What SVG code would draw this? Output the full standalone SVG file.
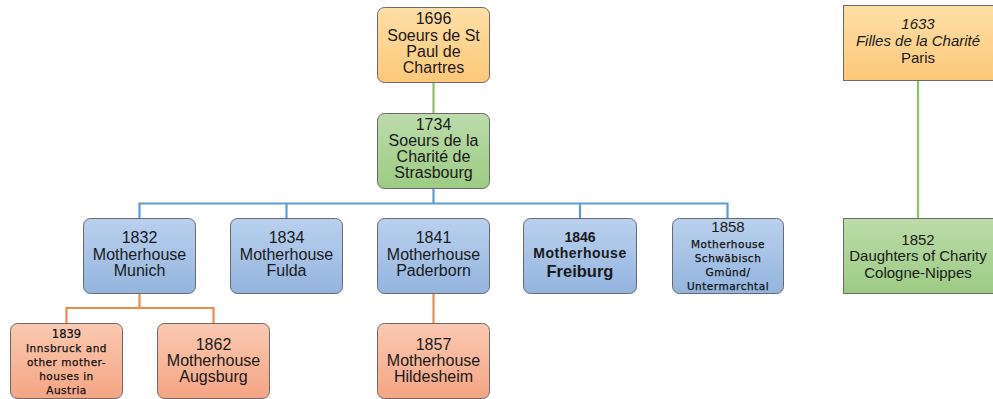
<svg xmlns="http://www.w3.org/2000/svg" width="993" height="399" viewBox="0 0 993 399">
<defs>
<linearGradient id="gOr" x1="0" y1="0" x2="0" y2="1"><stop offset="0" stop-color="#fedfa6"/><stop offset="1" stop-color="#fcc878"/></linearGradient>
<linearGradient id="gGr" x1="0" y1="0" x2="0" y2="1"><stop offset="0" stop-color="#bcdcaa"/><stop offset="1" stop-color="#9ccb83"/></linearGradient>
<linearGradient id="gBl" x1="0" y1="0" x2="0" y2="1"><stop offset="0" stop-color="#bad1ee"/><stop offset="1" stop-color="#93b4de"/></linearGradient>
<linearGradient id="gSa" x1="0" y1="0" x2="0" y2="1"><stop offset="0" stop-color="#fac9b1"/><stop offset="1" stop-color="#f4a584"/></linearGradient>
</defs>
<style>
.box{stroke:#6a6a6a;stroke-width:1}
.or{fill:url(#gOr)}.gr{fill:url(#gGr)}.bl{fill:url(#gBl)}.sa{fill:url(#gSa)}
text{font-family:"Liberation Sans",Arial,sans-serif;font-size:16px;fill:#1a1a1a;text-anchor:middle}
.it{font-style:italic}
.sm{font-family:"DejaVu Sans",Verdana,sans-serif;font-size:10.5px;letter-spacing:0.5px;fill:#111;stroke:#111;stroke-width:0.25px}
.sm11{font-family:"DejaVu Sans",Verdana,sans-serif;font-size:11.5px;fill:#111;stroke:#111;stroke-width:0.2px}
.b{font-weight:bold}
.c{fill:none;stroke-width:2.2}
.cg{stroke:#8cc06a}.cb{stroke:#5e9bd8}.co{stroke:#f08a4b}
</style>
<g id="connectors">
<path class="c cg" d="M433.5,82 V113"/>
<path class="c cb" d="M433.5,188 V203.5 M139.5,218 V203.5 H727.5 V218 M286.5,203.5 V218 M580,203.5 V218"/>
<path class="c co" d="M139.5,293 V308 M66.5,323 V308 H213.5 V323"/>
<path class="c co" d="M433.5,293 V323"/>
<path class="c cg" d="M918,80 V218"/>
</g>
<g id="n1696"><rect class="box or" x="377.5" y="7.5" width="112" height="75" rx="7"/>
<text x="433.5" y="24">1696</text><text x="433.5" y="41">Soeurs de St</text><text x="433.5" y="57">Paul de</text><text x="433.5" y="73">Chartres</text></g>
<g id="n1734"><rect class="box gr" x="377.5" y="113.5" width="112" height="75" rx="7"/>
<text x="433.5" y="130">1734</text><text x="433.5" y="146">Soeurs de la</text><text x="433.5" y="162">Charité de</text><text x="433.5" y="178">Strasbourg</text></g>
<g id="n1832"><rect class="box bl" x="83.5" y="218.5" width="112" height="75" rx="7"/>
<text x="139.5" y="243">1832</text><text x="139.5" y="260">Motherhouse</text><text x="139.5" y="276">Munich</text></g>
<g id="n1834"><rect class="box bl" x="230.5" y="218.5" width="112" height="75" rx="7"/>
<text x="286.5" y="243">1834</text><text x="286.5" y="260">Motherhouse</text><text x="286.5" y="276">Fulda</text></g>
<g id="n1841"><rect class="box bl" x="377.5" y="218.5" width="112" height="75" rx="7"/>
<text x="433.5" y="243">1841</text><text x="433.5" y="260">Motherhouse</text><text x="433.5" y="276">Paderborn</text></g>
<g id="n1846"><rect class="box bl" x="523.5" y="218.5" width="113" height="75" rx="7"/>
<text class="b" x="580" y="242" style="font-size:14px">1846</text><text class="b" x="580" y="258" style="font-size:14px;letter-spacing:0.5px">Motherhouse</text><text class="b" x="580" y="277" style="font-size:16.5px">Freiburg</text></g>
<g id="n1858"><rect class="box bl" x="672.5" y="218.5" width="111" height="75" rx="7"/>
<text x="728" y="232" style="font-size:15px">1858</text><text class="sm" x="728" y="248">Motherhouse</text><text class="sm" x="728" y="262">Schwäbisch</text><text class="sm" x="728" y="276">Gmünd/</text><text class="sm" x="728" y="290">Untermarchtal</text></g>
<g id="n1839"><rect class="box sa" x="10.5" y="323.5" width="112" height="75" rx="7"/>
<text class="sm11" x="66.5" y="338">1839</text><text class="sm" x="66.5" y="352">Innsbruck and</text><text class="sm" x="66.5" y="366">other mother-</text><text class="sm" x="66.5" y="380">houses in</text><text class="sm" x="66.5" y="394">Austria</text></g>
<g id="n1862"><rect class="box sa" x="157.5" y="323.5" width="112" height="75" rx="7"/>
<text x="213.5" y="350">1862</text><text x="213.5" y="366">Motherhouse</text><text x="213.5" y="382">Augsburg</text></g>
<g id="n1857"><rect class="box sa" x="377.5" y="323.5" width="112" height="75" rx="7"/>
<text x="433.5" y="350">1857</text><text x="433.5" y="366">Motherhouse</text><text x="433.5" y="382">Hildesheim</text></g>
<g id="n1633"><rect class="box or" x="843.5" y="5.5" width="150" height="75"/>
<text class="it" x="918" y="29" style="font-size:15px">1633</text><text class="it" x="918" y="46" style="font-size:15px">Filles de la Charité</text><text x="918" y="63" style="font-size:15px">Paris</text></g>
<g id="n1852"><rect class="box gr" x="843.5" y="218.5" width="150" height="75"/>
<text x="918" y="245" style="font-size:15px">1852</text><text x="918" y="261" style="font-size:15px">Daughters of Charity</text><text x="918" y="278" style="font-size:15px">Cologne-Nippes</text></g>
</svg>
